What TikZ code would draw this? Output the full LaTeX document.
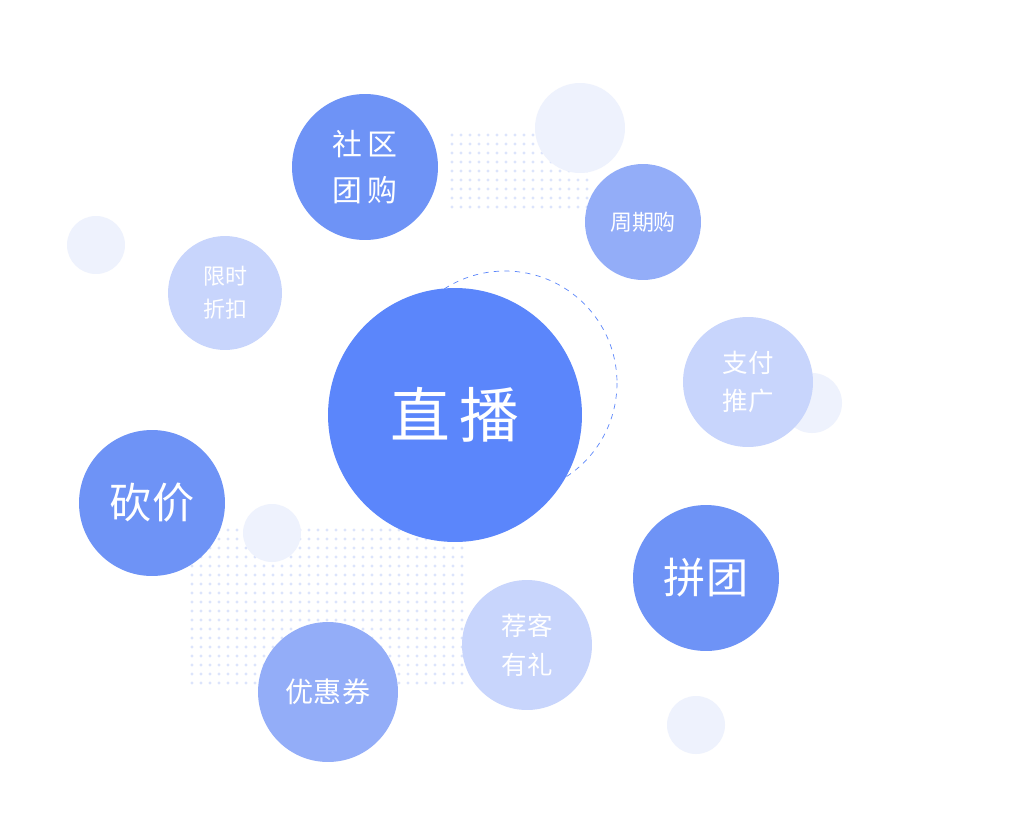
\documentclass[tikz,border=0pt]{standalone}
\usepackage{fontspec}
\setmainfont{Noto Sans CJK SC}
\usetikzlibrary{positioning}
\definecolor{live}{HTML}{5B86FB}
\definecolor{deep}{HTML}{6E93F6}
\definecolor{mid}{HTML}{93ADF8}
\definecolor{soft}{HTML}{C8D5FC}
\definecolor{pale}{HTML}{EEF2FD}
\definecolor{dotc}{HTML}{DCE4FB}
\tikzset{
  bubble/.style={circle,inner sep=0pt,text=white,align=center},
  faint/.style={circle,fill=pale,draw=none,inner sep=0pt}
}
\begin{document}
\begin{tikzpicture}[x=0.02cm,y=-0.02cm]
\useasboundingbox[fill=white] (0,0) rectangle (1024,825);
% dot grids
\foreach \i in {0,...,15} \foreach \j in {0,...,8}
  \fill[dotc] (452+\i*9,135+\j*9) circle (1.6);
\foreach \i in {0,...,30} \foreach \j in {0,...,17}
  \fill[dotc] (192+\i*9,530+\j*9) circle (1.6);
% pale circles
\node[faint,minimum size=1.8cm] (p1) at (580,128) {};
\node[faint,minimum size=1.16cm] (p2) at (96,245) {};
\node[faint,minimum size=1.2cm] (p3) at (812,403) {};
\node[faint,minimum size=1.16cm] (p4) at (272,533) {};
\node[faint,minimum size=1.16cm] (p5) at (696,725) {};
% dashed ring
\draw[live,dashed,thin] (505,383) circle (112);
% bubbles
\node[bubble,fill=live,minimum size=5.08cm,font=\fontsize{34}{40}\selectfont] (live) at (455,415) {直\,播};
\node[bubble,fill=deep,minimum size=2.92cm,font=\fontsize{17}{26}\selectfont] (group) at (365,167) {社\,区\\团\,购};
\node[bubble,fill=mid,minimum size=2.32cm,font=\fontsize{12.5}{15}\selectfont] (cycle) at (643,222) {周期购};
\node[bubble,fill=soft,minimum size=2.28cm,font=\fontsize{12.5}{19}\selectfont] (sale) at (225,293) {限时\\折扣};
\node[bubble,fill=soft,minimum size=2.6cm,font=\fontsize{14.5}{22}\selectfont] (pay) at (748,382) {支付\\推广};
\node[bubble,fill=deep,minimum size=2.92cm,font=\fontsize{24}{28}\selectfont] (cut) at (152,503) {砍价};
\node[bubble,fill=deep,minimum size=2.92cm,font=\fontsize{24}{28}\selectfont] (team) at (706,578) {拼团};
\node[bubble,fill=soft,minimum size=2.6cm,font=\fontsize{14.5}{22}\selectfont] (refer) at (527,645) {荐客\\有礼};
\node[bubble,fill=mid,minimum size=2.8cm,font=\fontsize{16}{20}\selectfont] (coupon) at (328,692) {优惠券};
\end{tikzpicture}
\end{document}
